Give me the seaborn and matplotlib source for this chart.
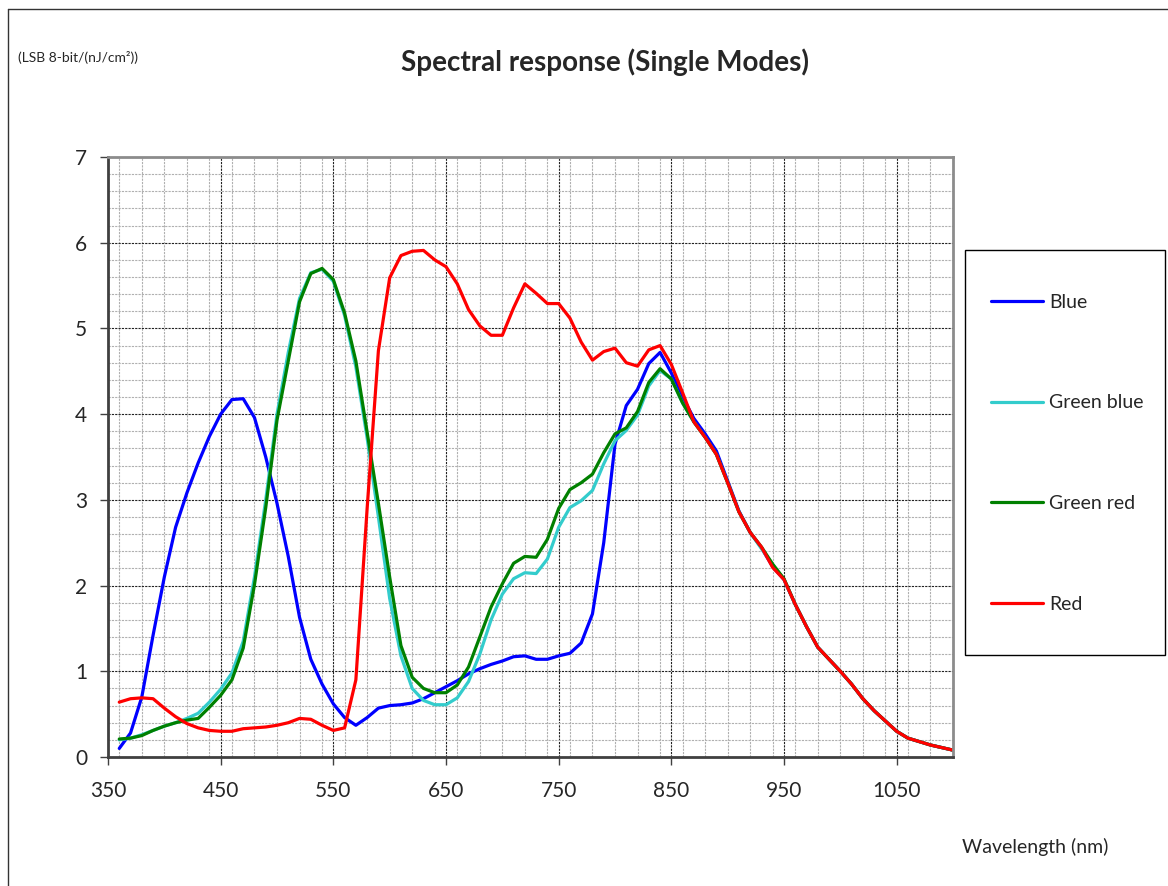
import pandas as pd
import matplotlib
matplotlib.use("Agg")
import matplotlib.pyplot as plt
import seaborn as sns
from matplotlib.lines import Line2D
from matplotlib.patches import Rectangle
from matplotlib.ticker import MultipleLocator

# Longitudes de onda (nm), cada 10 nm
wavelength = list(range(360, 1101, 10))

blue = [0.10, 0.28, 0.70, 1.42, 2.10, 2.68, 3.08, 3.43, 3.74, 4.00,
        4.17, 4.18, 3.96, 3.50, 2.96, 2.34, 1.63, 1.14, 0.85, 0.62,
        0.46, 0.37, 0.46, 0.57, 0.60, 0.61, 0.63, 0.68, 0.75, 0.82,
        0.89, 0.97, 1.03, 1.08, 1.12, 1.17, 1.18, 1.14, 1.14, 1.18,
        1.21, 1.33, 1.67, 2.50, 3.65, 4.10, 4.29, 4.59, 4.72, 4.48,
        4.20, 3.95, 3.77, 3.57, 3.22, 2.87, 2.62, 2.44, 2.22, 2.07,
        1.78, 1.52, 1.28, 1.14, 1.00, 0.85, 0.68, 0.54, 0.42, 0.30,
        0.22, 0.18, 0.14, 0.11, 0.08]

green_blue = [0.20, 0.22, 0.26, 0.31, 0.36, 0.40, 0.45, 0.51, 0.64, 0.79,
              0.98, 1.35, 2.10, 3.00, 4.00, 4.72, 5.35, 5.65, 5.69, 5.55,
              5.15, 4.55, 3.72, 2.80, 1.85, 1.18, 0.80, 0.66, 0.61, 0.61,
              0.69, 0.88, 1.20, 1.60, 1.90, 2.08, 2.15, 2.14, 2.31, 2.68,
              2.91, 2.99, 3.11, 3.42, 3.69, 3.81, 3.99, 4.33, 4.51, 4.41,
              4.13, 3.91, 3.73, 3.53, 3.20, 2.86, 2.62, 2.43, 2.24, 2.07,
              1.78, 1.52, 1.28, 1.14, 1.00, 0.85, 0.68, 0.54, 0.42, 0.30,
              0.22, 0.18, 0.14, 0.11, 0.08]

green_red = [0.21, 0.22, 0.25, 0.31, 0.36, 0.40, 0.43, 0.45, 0.58, 0.72,
             0.90, 1.27, 2.01, 2.91, 3.93, 4.62, 5.31, 5.64, 5.70, 5.57,
             5.18, 4.62, 3.79, 2.96, 2.10, 1.30, 0.93, 0.80, 0.75, 0.75,
             0.84, 1.05, 1.40, 1.75, 2.02, 2.26, 2.34, 2.33, 2.54, 2.90,
             3.12, 3.20, 3.30, 3.55, 3.77, 3.84, 4.03, 4.37, 4.53, 4.41,
             4.13, 3.91, 3.73, 3.53, 3.20, 2.86, 2.62, 2.45, 2.25, 2.08,
             1.78, 1.52, 1.28, 1.14, 1.00, 0.85, 0.68, 0.54, 0.42, 0.30,
             0.22, 0.18, 0.14, 0.11, 0.08]

red = [0.64, 0.68, 0.69, 0.68, 0.57, 0.47, 0.39, 0.34, 0.31, 0.30,
       0.30, 0.33, 0.34, 0.35, 0.37, 0.40, 0.45, 0.44, 0.37, 0.31,
       0.34, 0.90, 2.90, 4.74, 5.59, 5.85, 5.90, 5.91, 5.80, 5.72,
       5.52, 5.22, 5.03, 4.92, 4.92, 5.24, 5.52, 5.41, 5.29, 5.29,
       5.12, 4.84, 4.63, 4.73, 4.77, 4.60, 4.56, 4.75, 4.80, 4.58,
       4.25, 3.91, 3.73, 3.53, 3.20, 2.86, 2.62, 2.45, 2.21, 2.07,
       1.78, 1.52, 1.28, 1.14, 1.00, 0.85, 0.68, 0.54, 0.42, 0.30,
       0.22, 0.18, 0.14, 0.11, 0.08]

series = {"Blue": blue, "Green blue": green_blue, "Green red": green_red, "Red": red}
colors = {"Blue": "#0000FF", "Green blue": "#33CCCC", "Green red": "#008000", "Red": "#FF0000"}

df = pd.concat([pd.DataFrame({"Wavelength": wavelength, "Value": v, "Mode": k})
                for k, v in series.items()], ignore_index=True)

sns.set_style("white")
plt.rcParams["font.family"] = ["Lato", "DejaVu Sans"]

W, H = 1168, 886
fig = plt.figure(figsize=(W / 100, H / 100), dpi=100)
ax = fig.add_axes([108 / W, 1 - 757 / H, (953 - 108) / W, (757 - 157) / H])

sns.lineplot(data=df, x="Wavelength", y="Value", hue="Mode", palette=colors,
             linewidth=2.3, ax=ax, legend=True)
handles, labels = ax.get_legend_handles_labels()
ax.get_legend().remove()

ax.set_xlim(350, 1100)
ax.set_ylim(0, 7)
ax.set_xticks(range(350, 1051, 100))
ax.set_yticks(range(0, 8))
ax.xaxis.set_minor_locator(MultipleLocator(20))
ax.yaxis.set_minor_locator(MultipleLocator(0.2))
ax.grid(True, which="major", color="#222222", linestyle=(0, (2, 1)), linewidth=0.8)
ax.grid(True, which="minor", color="#b0b0b0", linestyle=(0, (2, 1)), linewidth=0.8)
ax.set_axisbelow(True)
ax.tick_params(axis="both", which="major", direction="out", length=6, width=1,
               color="#404040", labelsize=15, left=True, bottom=True)
ax.tick_params(axis="x", which="major", pad=11)
ax.tick_params(axis="y", which="major", pad=9)
ax.tick_params(axis="both", which="minor", length=0)
ax.set_xlabel("")
ax.set_ylabel("")
for side in ["left", "bottom"]:
    ax.spines[side].set_color("#404040")
    ax.spines[side].set_linewidth(2)
for side in ["top", "right"]:
    ax.spines[side].set_color("#8c8c8c")
    ax.spines[side].set_linewidth(2)

# Textos
fig.text(605 / W, 1 - 62 / H, "Spectral response (Single Modes)", ha="center",
         va="center", fontsize=20, fontweight="bold")
fig.text(18 / W, 1 - 57 / H, "(LSB 8-bit/(nJ/cm²))", ha="left", va="center", fontsize=10)
fig.text(962 / W, 1 - 847 / H, "Wavelength (nm)", ha="left", va="center", fontsize=14)

# Leyenda con marco manual
fig.add_artist(Rectangle((965 / W, 1 - 655 / H), 200 / W, 405 / H, transform=fig.transFigure,
                         facecolor="white", edgecolor="black", linewidth=1))
fig.legend(handles, labels, loc="upper left", bbox_to_anchor=(981 / W, 1 - 284 / H),
           bbox_transform=fig.transFigure, frameon=False, fontsize=14,
           labelspacing=4.3, handlelength=2.7, handletextpad=0.3, borderpad=0)

# Borde exterior
fig.add_artist(Line2D([8 / W, 8 / W], [0, 1 - 9 / H], transform=fig.transFigure, color="#333333", lw=1))
fig.add_artist(Line2D([8 / W, 1], [1 - 9 / H, 1 - 9 / H], transform=fig.transFigure, color="#333333", lw=1))

fig.savefig("out.png", dpi=100)
